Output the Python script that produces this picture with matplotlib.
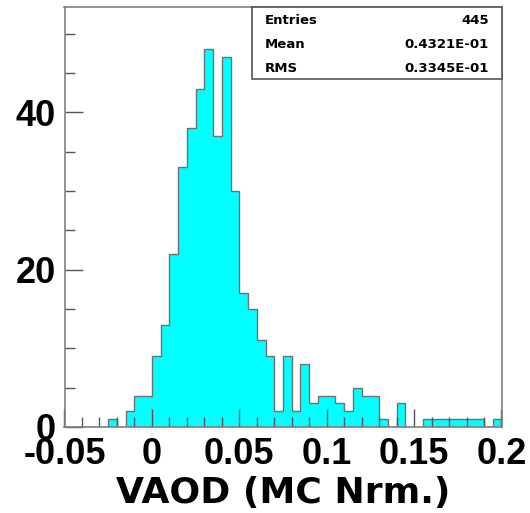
import numpy as np
import matplotlib
matplotlib.use("Agg")
import matplotlib.pyplot as plt
from matplotlib.patches import Rectangle

# histogram: 50 bins from -0.05 to 0.2
x_lo, x_hi, n_bins = -0.05, 0.2, 50
counts = [0, 0, 0, 0, 0, 1, 0, 2, 4, 4,
          9, 13, 22, 33, 38, 43, 48, 37, 47, 30,
          17, 15, 11, 9, 2, 9, 2, 8, 3, 4,
          4, 3, 2, 5, 4, 4, 1, 0, 3, 0,
          0, 1, 1, 1, 1, 1, 1, 1, 0, 1]
stat_names = ["Entries", "Mean", "RMS"]
stat_values = ["445", "0.4321E-01", "0.3345E-01"]
xticks = [-0.05, 0, 0.05, 0.1, 0.15, 0.2]
xtick_labels = ["-0.05", "0", "0.05", "0.1", "0.15", "0.2"]
yticks = [0, 20, 40]
xlabel = "VAOD (MC Nrm.)"

edges = np.linspace(x_lo, x_hi, n_bins + 1)

fig = plt.figure(figsize=(5.3, 5.13), dpi=100)
ax = fig.add_axes([64.5 / 530, 86 / 513, 437 / 530, 420 / 513])

ax.stairs(counts, edges, fill=True, color="#00ffff", zorder=1)
ax.stairs(counts, edges, fill=False, color="#707070", lw=1.0, zorder=1.1)

ax.set_xlim(x_lo, x_hi)
ax.set_ylim(0, 53.4)

frame_col = "#808080"
for s in ax.spines.values():
    s.set_color(frame_col)
    s.set_linewidth(1.2)

ax.set_xticks(xticks)
ax.set_xticks(np.arange(-0.05, 0.2001, 0.01), minor=True)
ax.set_yticks(yticks)
ax.set_yticks(np.arange(0, 53, 5), minor=True)
ax.tick_params(which="both", direction="in", color="#555555", width=1.0,
               top=False, right=False)
ax.tick_params(which="major", length=13)
ax.tick_params(which="minor", length=7)
ax.tick_params(axis="x", pad=7)
ax.tick_params(axis="y", pad=6)

tick_font = dict(family="Liberation Sans", weight="bold", size=26)
ax.set_xticklabels(xtick_labels, fontdict=tick_font)
ax.set_yticklabels([str(v) for v in yticks], fontdict=tick_font)

ax.set_xlabel(xlabel, family="DejaVu Sans", weight="bold", size=26, labelpad=3)

# stats box
bx0 = (252 - 64.5) / 437
by0 = (427 - 79) / 420
ax.add_patch(Rectangle((bx0, by0), 1 - bx0, 1 - by0, transform=ax.transAxes,
                       facecolor="white", edgecolor="#555555", lw=1.2,
                       zorder=3, clip_on=False))
row_y = [0.969, 0.911, 0.854]
for name, val, yy in zip(stat_names, stat_values, row_y):
    ax.text(0.459, yy, name, transform=ax.transAxes, ha="left", va="center",
            family="DejaVu Sans", weight="bold", size=9.5, zorder=4)
    ax.text(0.971, yy, val, transform=ax.transAxes, ha="right", va="center",
            family="DejaVu Sans", weight="bold", size=9.5, zorder=4)

fig.savefig("out.png", dpi=100)
